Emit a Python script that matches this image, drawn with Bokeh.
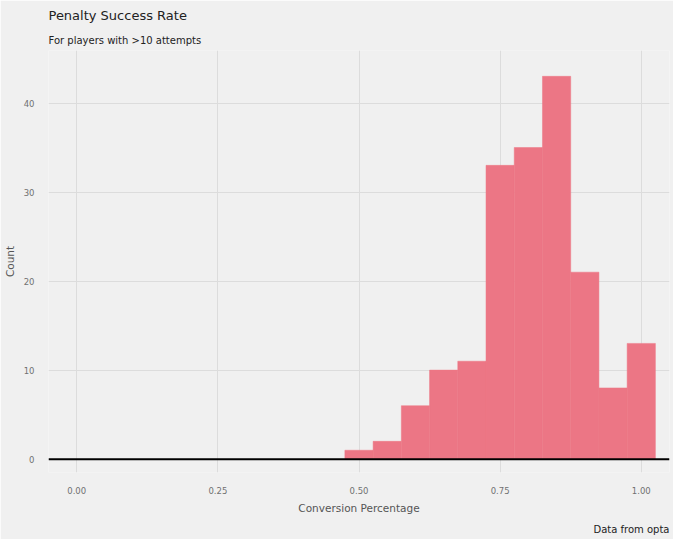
from bokeh.plotting import figure
from bokeh.models import Title, FixedTicker, Span
from bokeh.embed import file_html
from bokeh.resources import INLINE

# histogram bins (centre) and counts
bin_centers = [0.50, 0.55, 0.60, 0.65, 0.70, 0.75, 0.80, 0.85, 0.90, 0.95, 1.00]
counts = [1, 2, 6, 10, 11, 33, 35, 43, 21, 8, 13]
bin_width = 0.05

bg = "#F0F0F0"
p = figure(width=673, height=539, output_backend="svg", toolbar_location=None,
           x_range=(-0.05, 1.05), y_range=(-1.5, 45.9),
           background_fill_color=bg, border_fill_color=bg,
           min_border_left=20, min_border_right=4, min_border_top=10, min_border_bottom=10)
p.outline_line_color = None

p.vbar(x=bin_centers, top=counts, width=bin_width, bottom=0,
       fill_color="#EC7685", line_color="#EC7685", line_width=0.5)
p.add_layout(Span(location=0, dimension="width", line_color="black", line_width=2))

p.xaxis.ticker = FixedTicker(ticks=[0, 0.25, 0.5, 0.75, 1.0])
p.xaxis.major_label_overrides = {0: "0.00", 0.25: "0.25", 0.5: "0.50", 0.75: "0.75", 1.0: "1.00"}
p.yaxis.ticker = FixedTicker(ticks=[0, 10, 20, 30, 40])
for ax in (p.xaxis, p.yaxis):
    ax.axis_line_color = None
    ax.major_tick_line_color = None
    ax.minor_tick_line_color = None
    ax.major_label_text_font = "DejaVu Sans"
    ax.major_label_text_font_size = "8.5px"
    ax.major_label_text_color = "#707070"
    ax.axis_label_text_font = "DejaVu Sans"
    ax.axis_label_text_font_size = "10.5px"
    ax.axis_label_text_font_style = "normal"
    ax.axis_label_text_color = "#555555"
p.xaxis.axis_label = "Conversion Percentage"
p.yaxis.axis_label = "Count"
p.xaxis.major_label_standoff = 8
p.yaxis.major_label_standoff = 8
p.grid.grid_line_color = "#DCDCDC"

p.add_layout(Title(text="Data from opta", align="right", text_font="DejaVu Sans",
                   text_font_size="10px", text_font_style="normal", text_color="#222222"), "below")
p.add_layout(Title(text="For players with >10 attempts", text_font="DejaVu Sans",
                   text_font_size="10px", text_font_style="normal", text_color="#222222"), "above")
p.add_layout(Title(text="Penalty Success Rate", text_font="DejaVu Sans",
                   text_font_size="13px", text_font_style="normal", text_color="#222222"), "above")

open("out.html", "w").write(file_html(p, INLINE))
